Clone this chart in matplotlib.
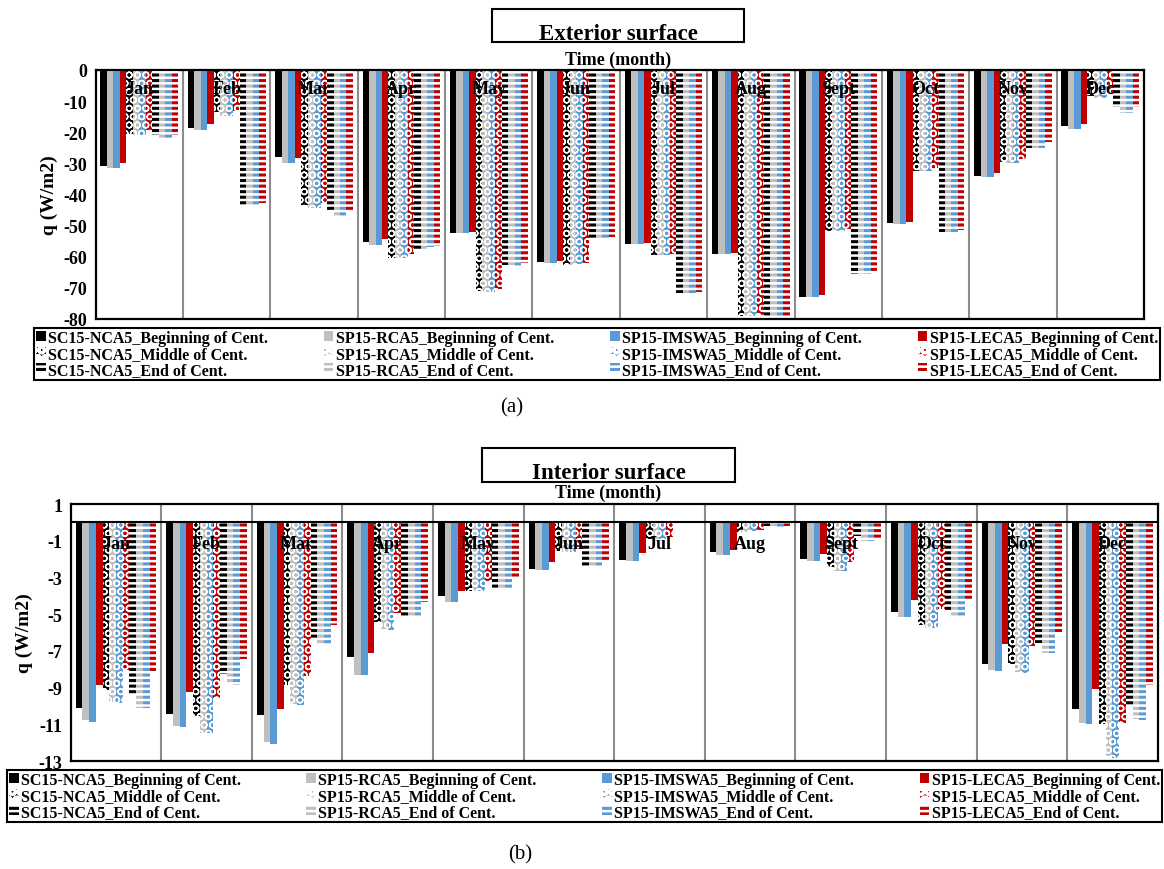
import numpy as np
import matplotlib
matplotlib.use('Agg')
import matplotlib.pyplot as plt
from matplotlib.patches import Rectangle

plt.rcParams['font.family'] = ['Liberation Serif', 'DejaVu Serif']
plt.rcParams['font.weight'] = 'bold'
plt.rcParams['hatch.linewidth'] = 2.2

months = ['Jan', 'Feb', 'Mar', 'Apr', 'May', 'Jun', 'Jul', 'Aug', 'Sept', 'Oct', 'Nov', 'Dec']
materials = ['SC15-NCA5', 'SP15-RCA5', 'SP15-IMSWA5', 'SP15-LECA5']
periods = ['Beginning of Cent.', 'Middle of Cent.', 'End of Cent.']
colors = ['#000000', '#bfbfbf', '#5b9bd5', '#c00000']

# exterior surface heat flux, W/m2  (rows: material, cols: month)
ext_begin = [
    [-30.9, -18.5, -28.0, -55.4, -52.4, -61.6, -56.0, -59.0, -73.0, -49.3, -34.0, -18.0],
    [-31.4, -19.3, -29.8, -56.1, -52.4, -61.9, -56.0, -59.0, -73.0, -49.5, -34.4, -18.8],
    [-31.4, -19.3, -29.8, -56.1, -52.4, -61.9, -56.0, -59.0, -73.0, -49.5, -34.4, -18.8],
    [-29.8, -17.5, -28.2, -54.4, -51.9, -61.4, -55.7, -58.7, -72.4, -48.8, -33.2, -17.3],
]
ext_middle = [
    [-20.7, -13.5, -43.4, -60.3, -71.0, -62.6, -59.4, -78.9, -51.7, -32.3, -29.6, -8.5],
    [-21.0, -14.9, -44.5, -60.3, -71.4, -62.5, -59.4, -79.1, -51.7, -32.3, -29.9, -8.9],
    [-21.0, -14.9, -44.5, -60.3, -71.4, -62.4, -59.4, -79.1, -51.7, -32.3, -29.9, -8.9],
    [-19.2, -13.2, -42.7, -59.0, -70.5, -62.1, -59.0, -78.6, -51.1, -31.5, -28.7, -7.5],
]
ext_end = [
    [-21.0, -43.6, -45.7, -57.4, -62.8, -54.4, -71.6, -79.3, -65.7, -52.2, -25.1, -11.8],
    [-22.1, -43.6, -47.0, -57.4, -62.8, -54.4, -71.6, -79.3, -65.7, -52.2, -25.1, -13.8],
    [-22.3, -43.6, -47.0, -57.0, -63.0, -54.4, -71.6, -79.4, -65.7, -52.2, -25.1, -13.8],
    [-20.8, -42.8, -45.7, -56.5, -61.9, -53.8, -71.4, -79.1, -65.1, -51.3, -23.2, -11.8],
]

# interior surface heat flux, W/m2
int_begin = [
    [-10.13, -10.42, -10.50, -7.36, -4.00, -2.55, -2.05, -1.64, -2.00, -4.90, -7.69, -10.18],
    [-10.78, -11.09, -11.95, -8.33, -4.36, -2.60, -2.09, -1.76, -2.09, -5.13, -8.04, -10.91],
    [-10.85, -11.16, -12.05, -8.33, -4.36, -2.60, -2.09, -1.76, -2.09, -5.13, -8.07, -10.96],
    [-8.87, -9.24, -10.15, -7.09, -3.76, -2.15, -1.69, -1.49, -1.73, -4.24, -6.64, -9.05],
]
int_middle = [
    [-9.15, -10.55, -8.87, -5.40, -3.73, -1.55, -0.91, -0.51, -2.45, -5.60, -7.73, -10.96],
    [-9.76, -11.45, -9.87, -5.82, -3.76, -1.64, -0.91, -0.51, -2.64, -5.73, -8.13, -12.73],
    [-9.85, -11.50, -9.93, -5.85, -3.76, -1.64, -0.91, -0.49, -2.67, -5.78, -8.18, -12.82],
    [-8.05, -9.55, -8.36, -4.96, -3.18, -1.36, -0.78, -0.40, -2.18, -4.73, -6.73, -10.91],
]
int_end = [
    [-9.36, -8.27, -6.33, -5.09, -3.64, -2.42, -0.02, -0.18, -0.73, -4.87, -6.55, -9.96],
    [-10.13, -8.82, -6.69, -5.18, -3.67, -2.45, -0.02, -0.18, -1.00, -5.09, -7.13, -10.73],
    [-10.13, -8.85, -6.69, -5.18, -3.67, -2.45, -0.02, -0.24, -1.00, -5.09, -7.13, -10.76],
    [-8.22, -7.45, -5.60, -4.36, -3.09, -2.04, -0.02, -0.18, -0.87, -4.24, -5.96, -8.87],
]


def thin_hatch(bars, lw):
    for p in bars:
        if hasattr(p, 'set_hatch_linewidth'):
            p.set_hatch_linewidth(lw)


def draw_panel(ax, groups, ylim, yticks, label_off):
    x = np.arange(len(months))
    w = 0.89 / 12
    handles = {}
    k = 0
    for p, data in enumerate(groups):
        for m in range(4):
            pos = x - 0.445 + w * (k + 0.5)
            if p == 0:
                b = ax.bar(pos, data[m], w, color=colors[m], linewidth=0, zorder=3)
            elif p == 1:
                b = ax.bar(pos, data[m], w, facecolor=colors[m], edgecolor='white',
                           hatch='OO', linewidth=0, zorder=3)
                thin_hatch(b, 1.0)
            else:
                b = ax.bar(pos, data[m], w, facecolor='white', edgecolor=colors[m],
                           hatch='---', linewidth=0, zorder=3)
            handles[(m, p)] = b
            k += 1
    ax.set_xlim(-0.5, len(months) - 0.5)
    ax.set_ylim(*ylim)
    ax.set_yticks(yticks)
    ax.set_yticklabels([str(t) for t in yticks], fontsize=13, fontweight='bold')
    ax.tick_params(axis='y', length=0, pad=6)
    ax.set_xticks([])
    for xb in np.arange(0.5, len(months) - 0.5, 1):
        ax.axvline(xb, color='#8c8c8c', lw=1.5, zorder=1)
    ax.axhline(0, color='black', lw=1.5, zorder=4)
    for i, mth in enumerate(months):
        ax.annotate(mth, (i, 0), xytext=(0, -label_off), textcoords='offset points',
                    ha='center', va='center', fontsize=13, fontweight='bold', zorder=5)
    for s in ax.spines.values():
        s.set_linewidth(1.6)
        s.set_color('black')
    ax.set_ylabel('q (W/m2)', fontsize=14, fontweight='bold', labelpad=4)
    return handles


def add_legend(fig, handles, box):
    hs, ls = [], []
    for m in range(4):
        for p in range(3):
            hs.append(handles[(m, p)])
            ls.append(materials[m] + '_' + periods[p])
    leg = fig.legend(hs, ls, ncol=4, loc='upper left', bbox_to_anchor=box, mode='expand',
                     borderaxespad=0, fancybox=False, edgecolor='black', framealpha=1,
                     prop={'family': 'Liberation Serif', 'weight': 'bold', 'size': 11.5},
                     handlelength=0.6, handleheight=0.6, handletextpad=0.15,
                     labelspacing=0.0, borderpad=0.12, columnspacing=1.0)
    leg.get_frame().set_linewidth(1.5)


def title_box(fig, x0, y0, x1, y1, text):
    W, H = 1164, 870
    fig.add_artist(Rectangle((x0 / W, 1 - y1 / H), (x1 - x0) / W, (y1 - y0) / H,
                             transform=fig.transFigure, fill=False, ec='black', lw=1.5))
    fig.text((x0 + x1) / 2 / W, 1 - (y0 + (y1 - y0) * 0.73) / H, text, ha='center',
             va='center', fontsize=16.5, fontweight='bold')


fig = plt.figure(figsize=(11.64, 8.7), dpi=100)

ax1 = fig.add_axes([0.0822, 0.6322, 0.9006, 0.2862])
h1 = draw_panel(ax1, [ext_begin, ext_middle, ext_end], (-80, 0), list(range(0, -81, -10)), 13)
title_box(fig, 492, 10, 744, 43, 'Exterior surface')
fig.text(0.531, 1 - 60 / 870, 'Time (month)', ha='center', va='center', fontsize=13, fontweight='bold')
add_legend(fig, h1, (34 / 1164, 1 - 379 / 870, 1126 / 1164, 50 / 870))
fig.text(512 / 1164, 1 - 408 / 870, '(a)', ha='center', va='center', fontsize=15, fontweight='normal')

ax2 = fig.add_axes([0.0607, 0.1241, 0.9339, 0.2954])
h2 = draw_panel(ax2, [int_begin, int_middle, int_end], (-13, 1), list(range(1, -14, -2)), 15)
title_box(fig, 482, 449, 735, 483, 'Interior surface')
fig.text(0.522, 1 - 493 / 870, 'Time (month)', ha='center', va='center', fontsize=13, fontweight='bold')
add_legend(fig, h2, (7 / 1164, 1 - 819 / 870, 1155 / 1164, 48 / 870))
fig.text(520 / 1164, 1 - 855 / 870, '(b)', ha='center', va='center', fontsize=15, fontweight='normal')

fig.savefig('out.png', dpi=100)
